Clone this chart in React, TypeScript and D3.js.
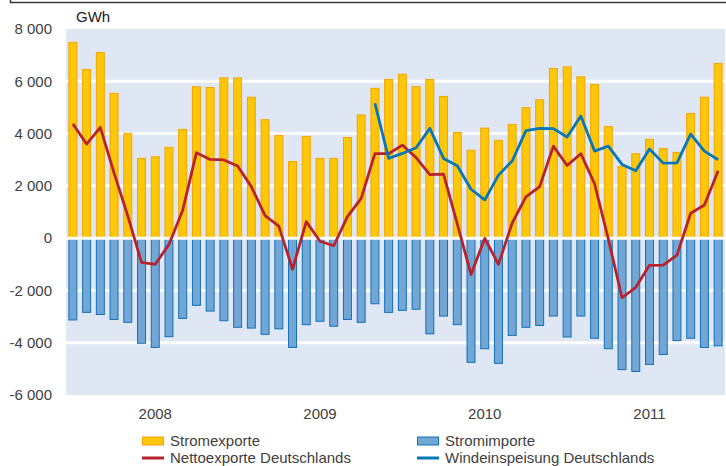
import React, { useRef, useEffect } from 'react';
import * as d3 from 'd3';

const years = ['2008', '2009', '2010', '2011'];
const months = years.flatMap((y) =>
  d3.range(1, 13).map((m) => `${y}-${String(m).padStart(2, '0')}`)
);

// GWh per month
const stromexporte = [
  7490, 6450, 7100, 5540, 4010, 3050, 3110, 3470, 4160, 5790, 5760, 6130,
  6130, 5390, 4530, 3930, 2930, 3890, 3050, 3050, 3850, 4710, 5730, 6070,
  6270, 5790, 6070, 5420, 4040, 3360, 4210, 3740, 4350, 4990, 5290, 6490,
  6550, 6170, 5880, 4270, 2740, 3230, 3780, 3430, 3280, 4770, 5390, 6680,
];
const stromimporte = [
  -3130, -2840, -2920, -3110, -3220, -4020, -4180, -3770, -3070, -2570, -2790, -3160,
  -3410, -3440, -3680, -3470, -4180, -3310, -3180, -3370, -3110, -3220, -2510, -2840,
  -2760, -2720, -3660, -2980, -3310, -4750, -4230, -4790, -3720, -3410, -3340, -2980,
  -3780, -2980, -3830, -4230, -5030, -5100, -4830, -4450, -3920, -3830, -4180, -4120,
];
const nettoexporte = [
  4370, 3600, 4240, 2500, 850, -930, -1000, -240, 1070, 3270, 3010, 2990,
  2760, 1970, 860, 460, -1190, 630, -120, -290, 820, 1520, 3230, 3230,
  3560, 3080, 2430, 2450, 550, -1390, -10, -1000, 580, 1580, 1970, 3520,
  2780, 3230, 2080, -30, -2280, -1880, -1040, -1030, -650, 950, 1270, 2580,
];
const windeinspeisung: (number | null)[] = [
  null, null, null, null, null, null, null, null, null, null, null, null,
  null, null, null, null, null, null, null, null, null, null, 5160, 3050,
  3240, 3460, 4200, 3050, 2770, 1870, 1460, 2410, 2950, 4110, 4200, 4190,
  3870, 4670, 3330, 3520, 2820, 2580, 3410, 2870, 2880, 3980, 3330, 3000,
];
const yTicks = [8000, 6000, 4000, 2000, 0, -2000, -4000, -6000];

const FONT = 'Arial, "Liberation Sans", sans-serif';
const TEXT = '#404040';
const EXP_FILL = '#ffc709';
const EXP_STROKE = '#f4a400';
const IMP_FILL = '#72a7d5';
const IMP_STROKE = '#1170b8';
const NET = '#b8222c';
const WIND = '#0677b9';

const fmt = d3
  .formatLocale({ decimal: ',', thousands: ' ', grouping: [3], currency: ['', ''], minus: '-' })
  .format(',d');

const Chart: React.FC = () => {
  const ref = useRef<SVGSVGElement | null>(null);
  useEffect(() => {
    if (!ref.current) return;
    const svg = d3.select(ref.current);
    svg.selectAll('*').remove();

    const left = 66;
    const right = 725;
    const x = d3
      .scaleBand<string>()
      .domain(months)
      .range([left, right])
      .paddingInner(0.42)
      .paddingOuter(0.21);
    const y = d3.scaleLinear().domain([-6000, 8000]).range([395, 29]);
    const cx = (i: number) => (x(months[i]) as number) + x.bandwidth() / 2;

    // frame remnant at top
    svg.append('path').attr('d', 'M10.5,0V2.5H726').attr('fill', 'none')
      .attr('stroke', '#3a3a3a').attr('stroke-width', 1.5);

    svg.append('rect')
      .attr('x', left).attr('y', y(8000))
      .attr('width', right - left).attr('height', y(-6000) - y(8000))
      .attr('fill', '#e0e7f4');

    svg.selectAll('line.grid')
      .data(yTicks.filter((t) => t !== 8000 && t !== -6000 && t !== 0))
      .enter().append('line')
      .attr('x1', left).attr('x2', right)
      .attr('y1', (d) => y(d)).attr('y2', (d) => y(d))
      .attr('stroke', '#fff').attr('stroke-width', 3);

    // y labels
    svg.selectAll('text.ytick')
      .data(yTicks)
      .enter().append('text')
      .attr('x', 52).attr('y', (d) => y(d))
      .attr('dy', '0.35em').attr('text-anchor', 'end')
      .attr('font-family', FONT).attr('font-size', 15).attr('fill', TEXT)
      .text((d) => fmt(d));

    svg.append('text')
      .attr('x', 76).attr('y', 22)
      .attr('font-family', FONT).attr('font-size', 15).attr('fill', '#222')
      .text('GWh');

    // bars
    svg.selectAll('rect.exp')
      .data(stromexporte)
      .enter().append('rect')
      .attr('x', (_, i) => x(months[i]) as number)
      .attr('y', (d) => y(d))
      .attr('width', x.bandwidth())
      .attr('height', (d) => y(0) - y(d))
      .attr('fill', EXP_FILL).attr('stroke', EXP_STROKE).attr('stroke-width', 1);

    svg.selectAll('rect.imp')
      .data(stromimporte)
      .enter().append('rect')
      .attr('x', (_, i) => x(months[i]) as number)
      .attr('y', y(0))
      .attr('width', x.bandwidth())
      .attr('height', (d) => y(d) - y(0))
      .attr('fill', IMP_FILL).attr('stroke', IMP_STROKE).attr('stroke-width', 1);

    svg.append('line')
      .attr('x1', left).attr('x2', right)
      .attr('y1', y(0)).attr('y2', y(0))
      .attr('stroke', '#fff').attr('stroke-width', 3);

    // lines
    const line = d3.line<number | null>()
      .defined((d) => d !== null)
      .x((_, i) => cx(i))
      .y((d) => y(d as number));

    svg.append('path').datum(nettoexporte as (number | null)[])
      .attr('d', line).attr('fill', 'none')
      .attr('stroke', NET).attr('stroke-width', 2.8).attr('stroke-linejoin', 'round');

    svg.append('path').datum(windeinspeisung)
      .attr('d', line).attr('fill', 'none')
      .attr('stroke', WIND).attr('stroke-width', 2.8).attr('stroke-linejoin', 'round');

    // year labels at mid-year
    svg.selectAll('text.year')
      .data(years)
      .enter().append('text')
      .attr('x', (d) => cx(months.indexOf(`${d}-07`)))
      .attr('y', 419)
      .attr('text-anchor', 'middle')
      .attr('font-family', FONT).attr('font-size', 15).attr('fill', TEXT)
      .text((d) => d);

    // legend
    const legend = [
      { label: 'Stromexporte', kind: 'bar', fill: EXP_FILL, stroke: EXP_STROKE, x: 142, y: 441 },
      { label: 'Stromimporte', kind: 'bar', fill: IMP_FILL, stroke: IMP_STROKE, x: 417, y: 441 },
      { label: 'Nettoexporte Deutschlands', kind: 'line', fill: NET, stroke: NET, x: 142, y: 458 },
      { label: 'Windeinspeisung Deutschlands', kind: 'line', fill: WIND, stroke: WIND, x: 417, y: 458 },
    ];
    const lg = svg.selectAll('g.legend').data(legend).enter().append('g')
      .attr('transform', (d) => `translate(${d.x},${d.y})`);
    lg.filter((d) => d.kind === 'bar').append('rect')
      .attr('x', 0.5).attr('y', -4).attr('width', 21).attr('height', 8)
      .attr('fill', (d) => d.fill).attr('stroke', (d) => d.stroke);
    lg.filter((d) => d.kind === 'line').append('line')
      .attr('x1', 0).attr('x2', 22).attr('y1', 0).attr('y2', 0)
      .attr('stroke', (d) => d.stroke).attr('stroke-width', 3);
    lg.append('text')
      .attr('x', 28).attr('y', 0).attr('dy', '0.35em')
      .attr('font-family', FONT).attr('font-size', 15).attr('fill', TEXT)
      .text((d) => d.label);
  }, []);
  return (
    <svg
      ref={ref}
      width={726}
      height={466}
      style={{ position: 'absolute', left: 0, top: 0, background: '#fff' }}
    />
  );
};

export default function App() {
  return <Chart />;
}
